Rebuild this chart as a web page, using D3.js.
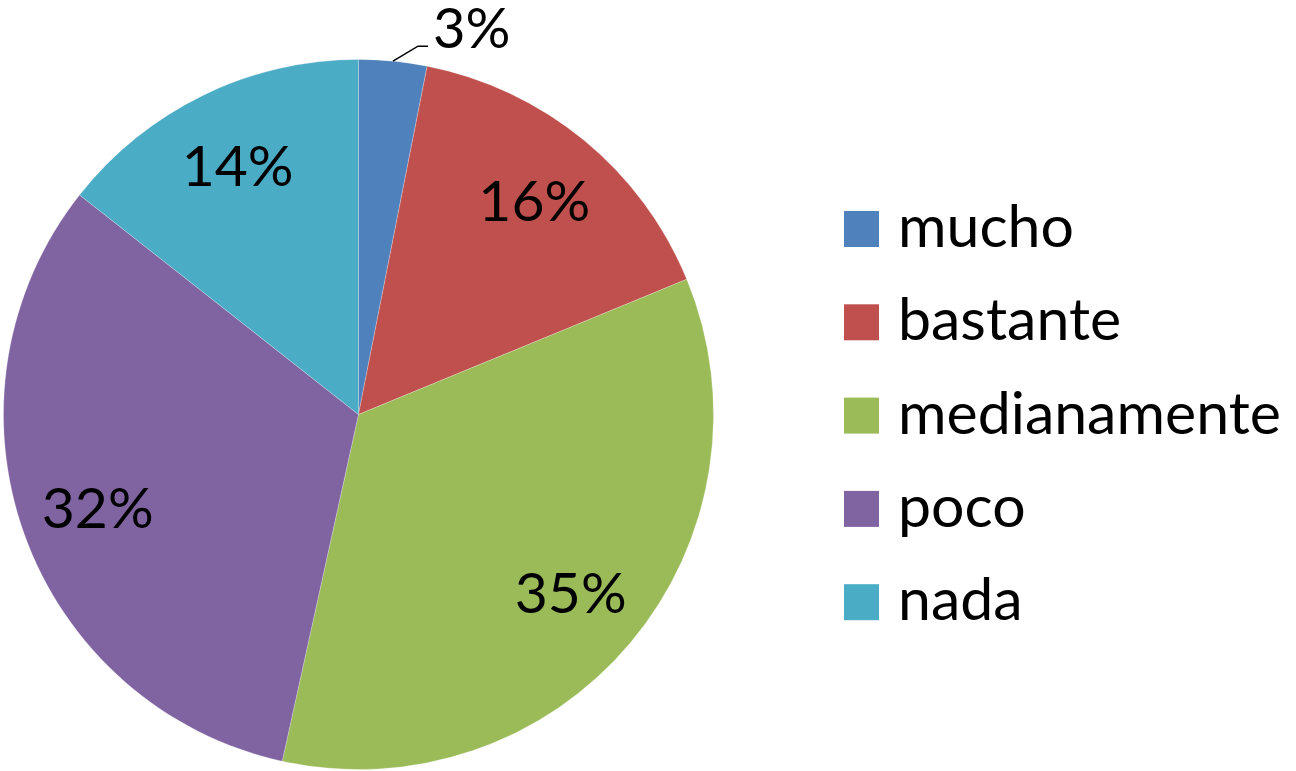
<!DOCTYPE html>
<html>
<head>
<meta charset="utf-8">
<script src="https://cdnjs.cloudflare.com/ajax/libs/d3/7.8.5/d3.min.js"></script>
<style>
  body { margin: 0; background: #fff; }
  text { font-family: Lato, "Open Sans", sans-serif; fill: #000; }
</style>
</head>
<body>
<svg id="chart"></svg>
<script>
var categories = ["mucho", "bastante", "medianamente", "poco", "nada"];
var values = [3.1, 15.7, 34.7, 32.2, 14.4];
var colors = ["#4F81BD", "#C0504D", "#9BBB59", "#8064A2", "#4BACC6"];

var w = 1296;
var h = 771;
var cx = 358.5;
var cy = 414.5;
var radius = 355;

var svg = d3.select("#chart")
  .attr("width", w)
  .attr("height", h);

var total = d3.sum(values);
var data = categories.map(function(c, i) {
  return { name: c, value: values[i], color: colors[i] };
});

var pie = d3.pie()
  .sort(null)
  .value(function(d) { return d.value; });

var arc = d3.arc()
  .innerRadius(0)
  .outerRadius(radius);

var labelArc = d3.arc()
  .innerRadius(277)
  .outerRadius(277);

var g = svg.append("g")
  .attr("transform", "translate(" + cx + "," + cy + ")");

var arcs = pie(data);

g.selectAll("path")
  .data(arcs)
  .enter()
  .append("path")
  .attr("d", arc)
  .attr("fill", function(d) { return d.data.color; })
  .attr("stroke", "#fff")
  .attr("stroke-opacity", 0.4)
  .attr("stroke-width", 0.6);

function pct(d) {
  return Math.round(d.data.value / total * 100) + "%";
}

// labels inside the big slices
g.selectAll("text.lbl")
  .data(arcs.filter(function(d) { return d.index > 0; }))
  .enter()
  .append("text")
  .attr("class", "lbl")
  .attr("transform", function(d) {
    return "translate(" + labelArc.centroid(d) + ")";
  })
  .attr("text-anchor", "middle")
  .attr("dy", "0.36em")
  .style("font-size", "57px")
  .text(pct);

// small slice gets a leader line and an outside label
var small = arcs[0];
var mid = (small.startAngle + small.endAngle) / 2;
var p0 = [Math.sin(mid) * radius, -Math.cos(mid) * radius];
var p1 = [p0[0] + 25, p0[1] - 15];
var p2 = [p1[0] + 10, p1[1]];

g.append("polyline")
  .attr("points", [p0, p1, p2].map(function(p) { return p.join(","); }).join(" "))
  .attr("fill", "none")
  .attr("stroke", "#000")
  .attr("stroke-width", 1.5);

g.append("text")
  .attr("x", p2[0] + 5)
  .attr("y", p2[1] - 18)
  .attr("dy", "0.36em")
  .style("font-size", "56px")
  .text(pct(small));

// legend
var legend = svg.append("g")
  .attr("transform", "translate(844,211)");

var item = legend.selectAll("g")
  .data(data)
  .enter()
  .append("g")
  .attr("transform", function(d, i) { return "translate(0," + (i * 93.3) + ")"; });

item.append("rect")
  .attr("width", 35)
  .attr("height", 36)
  .attr("fill", function(d) { return d.color; });

item.append("text")
  .attr("x", 54)
  .attr("y", 36)
  .style("font-size", "59px")
  .text(function(d) { return d.name; });
</script>
</body>
</html>
